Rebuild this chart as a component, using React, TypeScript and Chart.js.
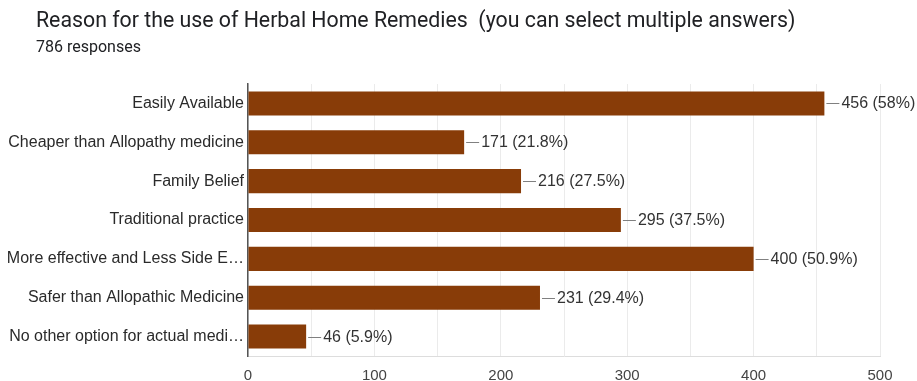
import React, { useEffect, useRef } from "react";
import { Chart, registerables } from "chart.js";

Chart.register(...registerables);

const titleText = "Reason for the use of Herbal Home Remedies  (you can select multiple answers)";
const subtitleText = "786 responses";
const categories = [
  "Easily Available",
  "Cheaper than Allopathy medicine",
  "Family Belief",
  "Traditional practice",
  "More effective and Less Side E…",
  "Safer than Allopathic Medicine",
  "No other option for actual medi…",
];
const counts = [456, 171, 216, 295, 400, 231, 46];
const percents = ["58%", "21.8%", "27.5%", "37.5%", "50.9%", "29.4%", "5.9%"];
const xTicks = [0, 100, 200, 300, 400, 500];

const BAR_COLOR = "#883c08";
const FONT = "'Liberation Sans', Arial, sans-serif";

const labelPlugin = {
  id: "barLabels",
  afterDatasetsDraw(chart: any) {
    const ctx = chart.ctx;
    const meta = chart.getDatasetMeta(0);
    ctx.save();
    ctx.font = `16px ${FONT}`;
    ctx.textBaseline = "middle";
    ctx.textAlign = "left";
    meta.data.forEach((bar: any, i: number) => {
      const x = bar.x;
      const y = Math.round(bar.y);
      ctx.strokeStyle = "#808080";
      ctx.lineWidth = 1;
      ctx.beginPath();
      ctx.moveTo(x + 2, y + 0.5);
      ctx.lineTo(x + 15, y + 0.5);
      ctx.stroke();
      ctx.fillStyle = "#333333";
      ctx.fillText(`${counts[i]} (${percents[i]})`, x + 17, y + 1);
    });
    ctx.restore();
  },
};

export default function App() {
  const ref = useRef<HTMLCanvasElement | null>(null);
  useEffect(() => {
    document.body.style.margin = "0";
    const chart = new Chart(ref.current as HTMLCanvasElement, {
      type: "bar",
      data: {
        labels: categories,
        datasets: [
          {
            data: counts,
            backgroundColor: BAR_COLOR,
            barPercentage: 0.62,
            categoryPercentage: 1,
          },
        ],
      },
      options: {
        indexAxis: "y",
        animation: false,
        responsive: false,
        maintainAspectRatio: false,
        layout: { padding: { left: 0, top: 84, right: 37, bottom: 0 } },
        plugins: {
          legend: { display: false },
          tooltip: { enabled: false },
        },
        scales: {
          x: {
            min: 0,
            max: 500,
            afterFit: (s: any) => {
              s.height = 25;
            },
            ticks: {
              stepSize: 50,
              autoSkip: false,
              maxRotation: 0,
              padding: 11,
              color: "#444444",
              font: { family: FONT, size: 15 },
              callback: (v: any) => (xTicks.includes(Number(v)) ? String(v) : ""),
            },
            grid: { color: "#ebebeb", drawTicks: false },
            border: { display: true, color: "#dddddd" },
          },
          y: {
            afterFit: (s: any) => {
              s.width = 248;
            },
            ticks: {
              padding: 4,
              color: "#2a2a2a",
              font: { family: FONT, size: 16 },
            },
            grid: { display: false, drawTicks: false },
            border: { display: true, color: "#555555", width: 1.5 },
          },
        },
      },
      plugins: [labelPlugin],
    } as any);
    return () => chart.destroy();
  }, []);

  return (
    <div style={{ position: "relative", width: 917, height: 381, background: "#fff" }}>
      <canvas ref={ref} width={917} height={381} style={{ position: "absolute", left: 0, top: 0 }} />
      <div
        style={{
          position: "absolute",
          left: 36,
          top: 6,
          fontFamily: "Roboto, sans-serif",
          fontSize: 21.3,
          color: "#202124",
          whiteSpace: "pre",
          lineHeight: "28px",
        }}
      >
        {titleText}
      </div>
      <div
        style={{
          position: "absolute",
          left: 36,
          top: 37,
          fontFamily: "Roboto, sans-serif",
          fontSize: 16,
          color: "#202124",
          lineHeight: "20px",
        }}
      >
        {subtitleText}
      </div>
    </div>
  );
}
